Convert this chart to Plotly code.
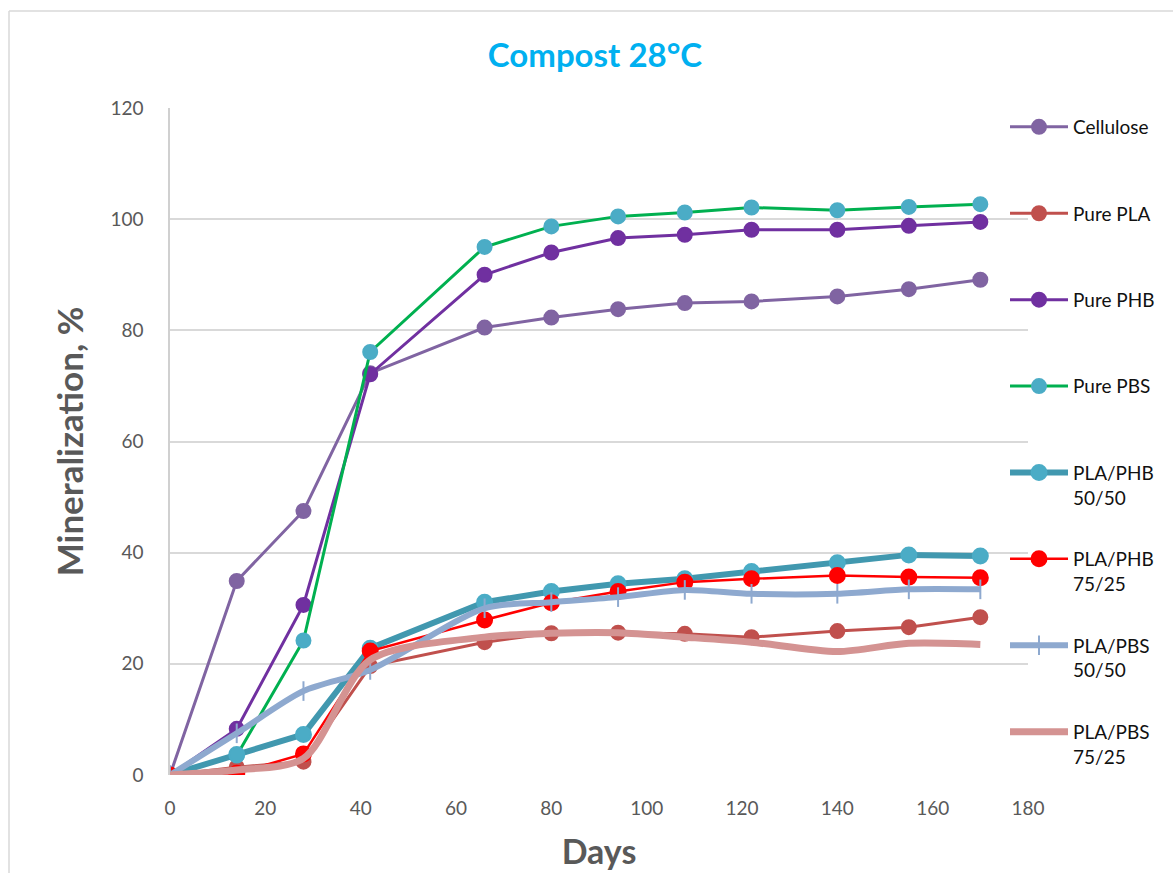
import plotly.graph_objects as go

# Sampling days
days = [0, 14, 28, 42, 66, 80, 94, 108, 122, 140, 155, 170]

# Mineralization (%) per material
cellulose = [0, 34.9, 47.5, 72.3, 80.5, 82.3, 83.8, 84.9, 85.2, 86.1, 87.4, 89.1]
pure_pla = [0, 1.4, 2.4, 19.6, 23.9, 25.5, 25.6, 25.4, 24.8, 25.9, 26.6, 28.4]
pure_phb = [0, 8.3, 30.6, 72.1, 90.0, 94.0, 96.6, 97.2, 98.1, 98.1, 98.8, 99.5]
pure_pbs = [0, 3.5, 24.2, 76.1, 95.0, 98.7, 100.5, 101.2, 102.1, 101.6, 102.2, 102.7]
pla_phb_50 = [0, 3.7, 7.3, 22.8, 31.1, 33.0, 34.4, 35.3, 36.6, 38.2, 39.6, 39.4]
pla_phb_75 = [0, 0.3, 3.8, 22.3, 27.9, 31.0, 33.0, 34.7, 35.3, 35.9, 35.6, 35.5]
pla_pbs_50 = [0, 7.5, 15.1, 18.9, 30.0, 31.1, 32.0, 33.3, 32.6, 32.6, 33.4, 33.4]
pla_pbs_75 = [0, 0.9, 3.0, 20.7, 24.8, 25.5, 25.6, 24.8, 23.9, 22.2, 23.7, 23.5]

FONT = "Lato"
GREY = "#595959"

# name, values, line colour, line width, marker colour, marker symbol, marker size, shape
series = [
    ("Cellulose", cellulose, "#8064A2", 3, "#8064A2", "circle", 14, "linear"),
    ("Pure PLA", pure_pla, "#C0504D", 3, "#C0504D", "circle", 14, "linear"),
    ("Pure PHB", pure_phb, "#7030A0", 3, "#7030A0", "circle", 14, "linear"),
    ("Pure PBS", pure_pbs, "#00B050", 3, "#4BACC6", "circle", 14, "linear"),
    ("PLA/PHB<br>50/50", pla_phb_50, "#4198AF", 6, "#4BACC6", "circle", 15, "linear"),
    ("PLA/PHB<br>75/25", pla_phb_75, "#FF0000", 2.5, "#FF0000", "circle", 15, "linear"),
    ("PLA/PBS<br>50/50", pla_pbs_50, "#8EA9CF", 6, "#8EA9CF", "line-ns", 14, "spline"),
    ("PLA/PBS<br>75/25", pla_pbs_75, "#D49392", 7, None, None, 0, "spline"),
]

fig = go.Figure()
for name, vals, lc, lw, mc, sym, ms, shape in series:
    # pad single-line labels to two lines so all legend rows share one height
    label = name if "<br>" in name else name + "<br>\u00a0"
    kw = dict(
        x=days, y=vals, name=label, legendgroup=name,
        line=dict(color=lc, width=lw, shape=shape, smoothing=0.8),
    )
    if mc is None:
        kw["mode"] = "lines"
    else:
        kw["mode"] = "lines+markers"
        kw["marker"] = dict(color=mc, symbol=sym, size=ms,
                            line=dict(color=mc, width=2))
    fig.add_trace(go.Scatter(**kw))

L, R, T, B = 170, 145, 108, 98
W, H = 1173, 873
pw, ph = W - L - R, H - T - B

def px_x(p):
    return (p - L) / pw

def px_y(p):
    return (H - B - p) / ph

fig.update_layout(
    width=W, height=H,
    margin=dict(l=L, r=R, t=T, b=B, autoexpand=False),
    paper_bgcolor="white", plot_bgcolor="white",
    font=dict(family=FONT, color=GREY, size=19),
    title=dict(text="<b>Compost 28°C</b>", xref="container", x=595 / W,
               xanchor="center", yref="container", y=1 - 55 / H, yanchor="middle",
               font=dict(family=FONT, size=33, color="#00B0F0")),
    xaxis=dict(range=[0, 180], tickvals=list(range(0, 181, 20)),
               showgrid=False, zeroline=False, showline=False,
               ticks="", tickfont=dict(size=19, color=GREY),
               ticklabelstandoff=20,
               title=dict(text="<b>Days</b>", font=dict(size=34, color=GREY),
                          standoff=22)),
    yaxis=dict(range=[0, 120], tickvals=list(range(0, 121, 20)),
               showgrid=True, gridcolor="#D9D9D9", gridwidth=1.5,
               zeroline=False, showline=True, linecolor="#D0D0D0", linewidth=1.5,
               ticks="", tickfont=dict(size=19, color=GREY),
               ticklabelstandoff=21,
               title=dict(text="<b>Mineralization, %</b>",
                          font=dict(size=35, color=GREY), standoff=16)),
    legend=dict(x=px_x(1005), xanchor="left", y=px_y(108), yanchor="top",
                bgcolor="rgba(0,0,0,0)", font=dict(family=FONT, size=19, color="#111111"),
                valign="top", tracegroupgap=34, itemwidth=58,
                traceorder="grouped", maxheight=900),
    showlegend=True,
    shapes=[
        # chart frame (left and top edges)
        dict(type="line", xref="paper", yref="paper",
             x0=px_x(9), x1=px_x(9), y0=px_y(11), y1=px_y(H + 5),
             line=dict(color="#D9D9D9", width=1.5), layer="below"),
        dict(type="line", xref="paper", yref="paper",
             x0=px_x(9), x1=px_x(W + 5), y0=px_y(11), y1=px_y(11),
             line=dict(color="#D9D9D9", width=1.5), layer="below"),
    ],
)

fig.write_html("out.html")
